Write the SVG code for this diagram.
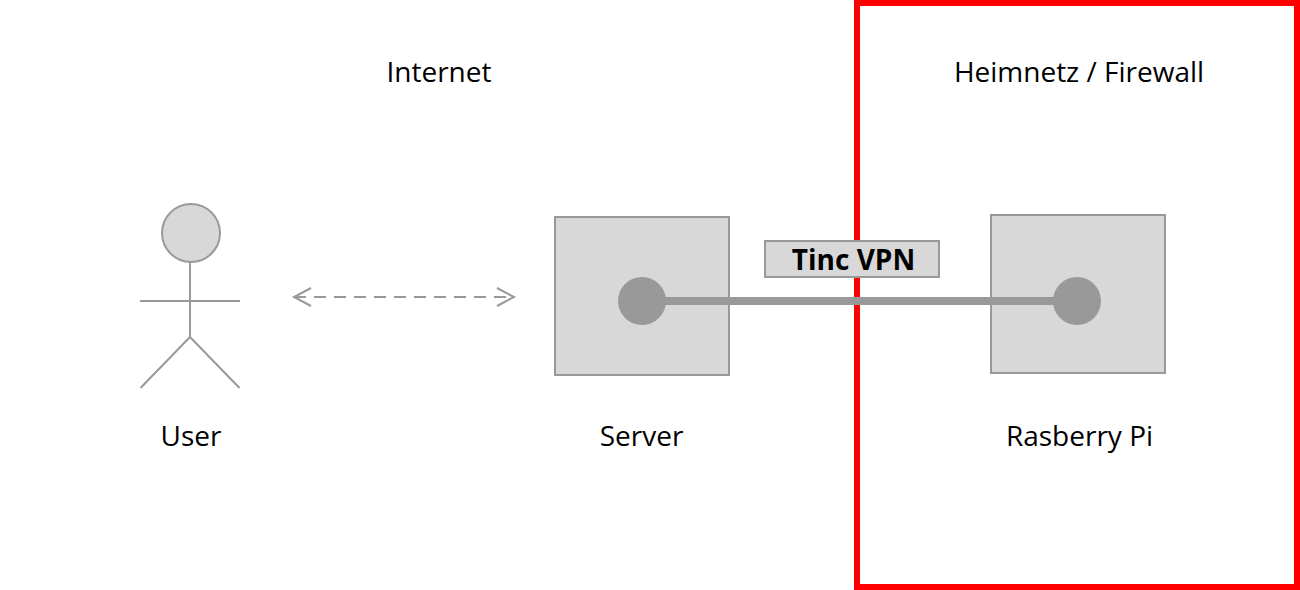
<svg xmlns="http://www.w3.org/2000/svg" width="1300" height="590" viewBox="0 0 1300 590">
<style>
.t{font-family:"Open Sans","Noto Sans",sans-serif;font-size:28px;fill:#000;text-anchor:middle}
.box{fill:#d8d8d8;stroke:#999;stroke-width:2}
.l{fill:none;stroke:#999;stroke-width:2}
.dot{fill:#999}
</style>
<rect width="1300" height="590" fill="#fff"/>
<g id="firewall"><rect x="857" y="3" width="440" height="584" fill="none" stroke="#f00" stroke-width="6"/><text class="t" x="1079" y="82">Heimnetz / Firewall</text></g>
<g id="internet"><text class="t" x="439" y="82">Internet</text></g>
<g id="user"><circle class="box" cx="191" cy="233" r="29"/><path class="l" d="M190 262V337M140 301H240M190 337L140.500 388M190 337L239.500 388"/><text class="t" x="191" y="446">User</text></g>
<g id="server"><rect class="box" x="555" y="217" width="174" height="158"/><text class="t" x="641.500" y="446">Server</text></g>
<g id="raspberry"><rect class="box" x="991" y="215" width="174" height="158"/><text class="t" x="1079.500" y="446">Rasberry Pi</text></g>
<g id="connectors">
<path class="l" stroke-dasharray="12 8" d="M294 297H514"/>
<path class="l" d="M311 288L294 297L311 306M497 288L514 297L497 306"/>
<path d="M642 301H1077" fill="none" stroke="#999" stroke-width="8"/>
<circle class="dot" cx="642" cy="301" r="24"/><circle class="dot" cx="1077" cy="301" r="24"/>
</g>
<g id="vpn"><rect class="box" x="765" y="241" width="174" height="36"/><text class="t" x="853.500" y="270" style="font-weight:700">Tinc VPN</text></g>
</svg>
